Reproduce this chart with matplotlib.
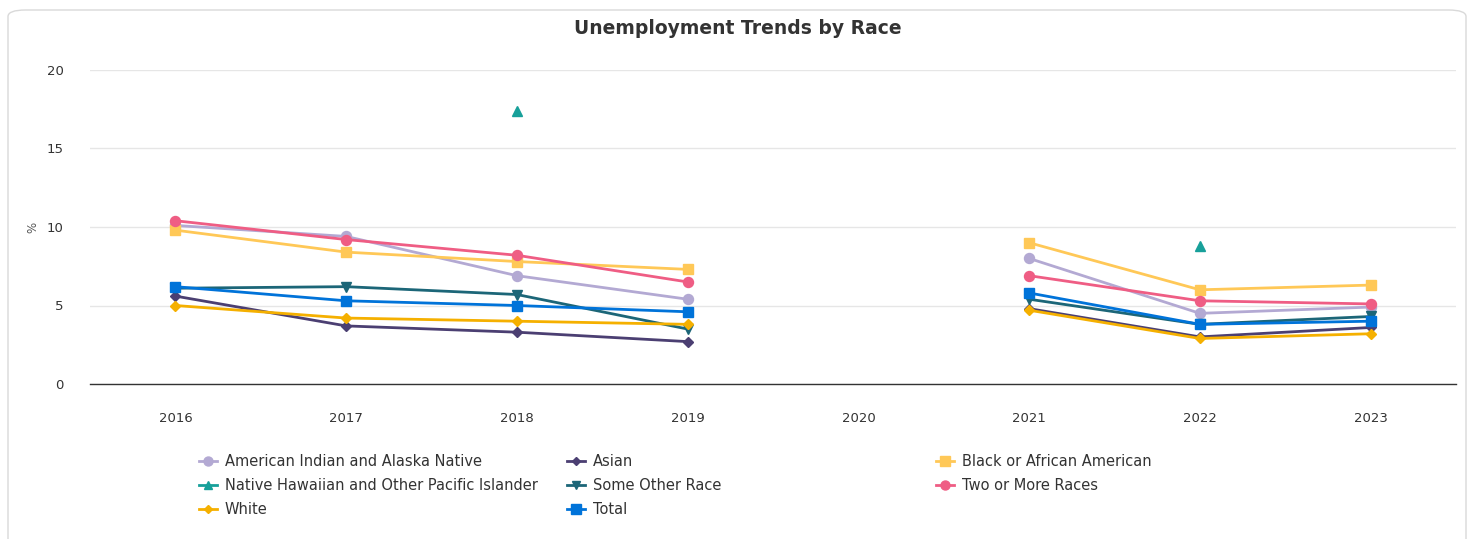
import numpy as np
import matplotlib
matplotlib.use("Agg")
import matplotlib.pyplot as plt
from matplotlib.lines import Line2D
from matplotlib.patches import FancyBboxPatch

years = ["2016", "2017", "2018", "2019", "2020", "2021", "2022", "2023"]
nan = np.nan
aian = [10.1, 9.4, 6.9, 5.4, nan, 8.0, 4.5, 4.9]
asian = [5.6, 3.7, 3.3, 2.7, nan, 4.8, 3.0, 3.6]
black = [9.8, 8.4, 7.8, 7.3, nan, 9.0, 6.0, 6.3]
nhpi = [nan, nan, 17.4, nan, nan, nan, 8.8, nan]
other = [6.1, 6.2, 5.7, 3.5, nan, 5.4, 3.8, 4.3]
two_more = [10.4, 9.2, 8.2, 6.5, nan, 6.9, 5.3, 5.1]
white = [5.0, 4.2, 4.0, 3.8, nan, 4.7, 2.9, 3.2]
total = [6.2, 5.3, 5.0, 4.6, nan, 5.8, 3.8, 4.0]

series = [
    ("American Indian and Alaska Native", aian, "#b3a9d3", "o", 7.2),
    ("Asian", asian, "#4b3f72", "D", 5),
    ("Black or African American", black, "#ffc857", "s", 7.5),
    ("Native Hawaiian and Other Pacific Islander", nhpi, "#17a09a", "^", 7),
    ("Some Other Race", other, "#1c6678", "v", 7),
    ("Two or More Races", two_more, "#ef5d84", "o", 7.2),
    ("White", white, "#f5b000", "D", 5),
    ("Total", total, "#0073d9", "s", 7.5),
]

W, H = 1475, 539
fig = plt.figure(figsize=(W / 100, H / 100), dpi=100)
fig.patch.set_facecolor("white")

# outer rounded border
border = FancyBboxPatch((8 / W, -0.05), (1466 - 8) / W, (539 - 10) / H + 0.05,
                        boxstyle="round,pad=0,rounding_size=0.012",
                        transform=fig.transFigure, facecolor="white",
                        edgecolor="#d9d9d9", linewidth=1.0, zorder=0)
fig.add_artist(border)

ax = fig.add_axes([90 / W, (H - 384) / H, (1456 - 90) / W, (384 - 70) / H])
ax.set_facecolor("none")
x = np.arange(len(years))
for name, vals, color, marker, ms in series:
    ax.plot(x, vals, color=color, marker=marker, markersize=ms, linewidth=2,
            label=name, clip_on=False, zorder=3)

ax.set_xlim(-0.5, len(years) - 0.5)
ax.set_ylim(0, 20)
ax.set_yticks([0, 5, 10, 15, 20])
ax.set_xticks(x)
ax.set_xticklabels(years)
ax.grid(axis="y", color="#e6e6e6", linewidth=1, zorder=0)
ax.set_axisbelow(True)
for s in ["top", "right", "left"]:
    ax.spines[s].set_visible(False)
ax.spines["bottom"].set_color("#333333")
ax.spines["bottom"].set_linewidth(1)
ax.tick_params(axis="both", length=0, labelsize=9.5, colors="#333333")
ax.tick_params(axis="x", pad=20)
ax.tick_params(axis="y", pad=19)

fig.text(33 / W, 1 - 227 / H, "%", rotation=90, ha="center", va="center",
         fontsize=8.5, color="#555555")

fig.text(738 / W, 1 - 29 / H, "Unemployment Trends by Race", ha="center", va="center",
         fontsize=13.5, color="#333333", fontweight="bold")

# legend (row-major, 3 equal columns)
col_x = [208, 576, 945]
row_y = [461, 485, 509]
for i, (name, vals, color, marker, ms) in enumerate(series):
    cx = col_x[i % 3]
    cy = row_y[i // 3]
    fy = 1 - cy / H
    fig.add_artist(Line2D([(cx - 9) / W, (cx + 9) / W], [fy, fy], color=color, linewidth=2,
                          transform=fig.transFigure))
    fig.add_artist(Line2D([cx / W], [fy], color=color, marker=marker, markersize=ms * 0.9,
                          linestyle="none", transform=fig.transFigure))
    fig.text((cx + 17) / W, fy, name, ha="left", va="center", fontsize=10.5, color="#333333")

fig.savefig("out.png", dpi=100)
